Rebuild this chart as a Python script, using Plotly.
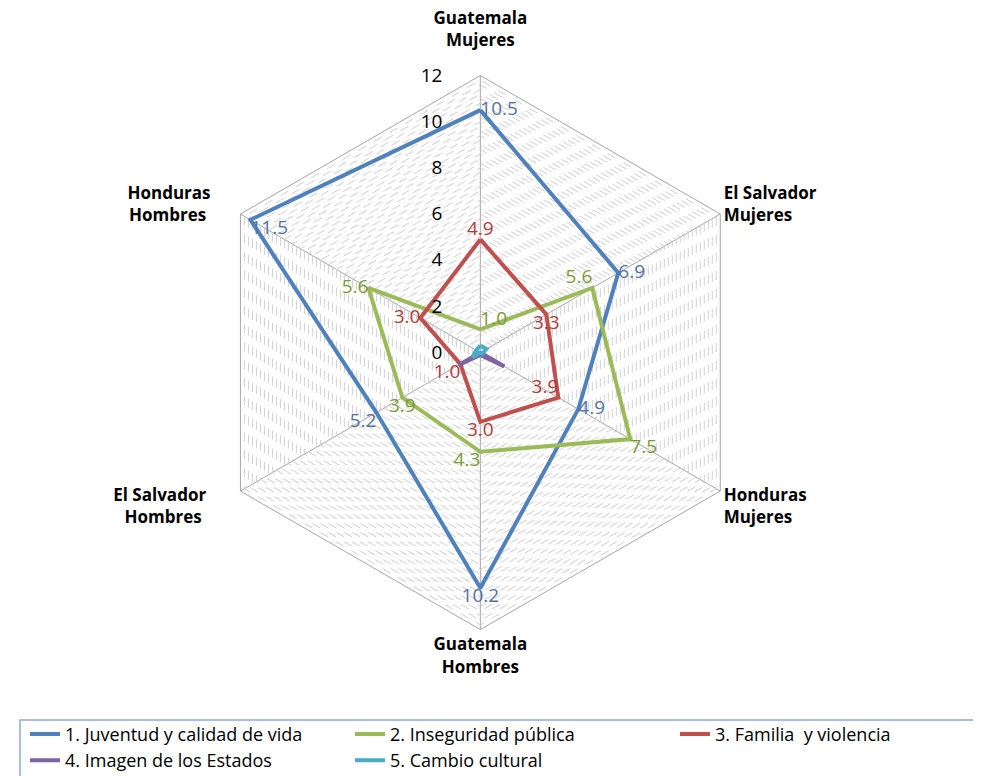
import plotly.graph_objects as go

NB = "&nbsp;"
categories = ["Guatemala<br>Mujeres<br>" + NB, "El Salvador<br>Mujeres", "Honduras<br>Mujeres",
              "Guatemala<br>Hombres", "El Salvador" + NB * 7 + "<br>Hombres" + NB * 8,
              "Honduras" + NB * 6 + "<br>Hombres" + NB * 7]

series_names = ["1. Juventud y calidad de vida", "2. Inseguridad pública", "3. Familia  y violencia",
                "4. Imagen de los Estados", "5. Cambio cultural"]

juventud = [10.5, 6.9, 4.9, 10.2, 5.2, 11.5]
inseguridad = [1.0, 5.6, 7.5, 4.3, 3.9, 5.6]
familia = [4.9, 3.3, 3.9, 3.0, 1.0, 3.0]
imagen = [0.0, 0.0, 1.2, 0.1, 1.1, 0.0]
cambio = [0.3, 0.3, 0.1, 0.0, 0.4, 0.2]

radial_ticks = [0, 2, 4, 6, 8, 10, 12]

line_colors = ["#4F81BD", "#9BBB59", "#C0504D", "#8064A2", "#4BACC6"]
label_colors = ["#5572A8", "#7C9A35", "#B03C3A", None, None]
legend_ids = ["legend", "legend2", "legend3", "legend", "legend2"]

text_positions = [
    ["middle right", "middle right", "middle right", "bottom center", "bottom left", "bottom right"],
    ["top right", "top left", "bottom right", "bottom left", "bottom center", "middle left"],
    ["top center", "bottom center", "top left", "bottom center", "bottom left", "middle left"],
    None, None,
]

FONT = "Open Sans"
all_values = [juventud, inseguridad, familia, imagen, cambio]

fig = go.Figure()
for i, vals in enumerate(all_values):
    r = vals + vals[:1]
    theta = categories + categories[:1]
    if label_colors[i]:
        kw = dict(
            mode="lines+text",
            text=[f"{v:.1f}" for v in vals] + [""],
            textposition=text_positions[i] + ["middle center"],
            textfont=dict(family=FONT, size=19, color=label_colors[i]),
        )
    else:
        kw = dict(mode="lines")
    fig.add_trace(go.Scatterpolar(
        r=r, theta=theta, name=series_names[i],
        line=dict(color=line_colors[i], width=4),
        cliponaxis=False, legend=legend_ids[i],
        **kw,
    ))

minor = [round(k * 0.2, 1) for k in range(0, 61)]
ticktext = [str(int(round(v))) + NB * 7 if abs(v - round(v)) < 1e-9 and int(round(v)) in radial_ticks else ""
            for v in minor]

legend_style = dict(
    orientation="v", yanchor="top", xanchor="left", y=0.088,
    font=dict(family=FONT, size=18, color="black"),
    bgcolor="rgba(0,0,0,0)", itemwidth=30, tracegroupgap=0,
)

fig.update_layout(
    width=981, height=776,
    margin=dict(l=0, r=0, t=0, b=0),
    paper_bgcolor="white",
    font=dict(family=FONT, color="black"),
    polar=dict(
        domain=dict(x=[0.199, 0.764], y=[0.199, 0.913]),
        bgcolor="white",
        gridshape="linear",
        radialaxis=dict(
            range=[0, 12], tickvals=minor, ticktext=ticktext,
            angle=90, tickangle=90, side="counterclockwise",
            showline=False, ticks="",
            gridcolor="#d0d0d0", griddash="dash", gridwidth=1,
            tickfont=dict(family=FONT, size=19, color="black"),
        ),
        angularaxis=dict(
            direction="clockwise", rotation=90,
            showline=True, linecolor="#a6a6a6", linewidth=1,
            gridcolor="#a6a6a6", gridwidth=1, ticks="",
            tickfont=dict(family=FONT, size=17, color="black", weight="bold"),
        ),
    ),
    legend=dict(x=17 / 981, **legend_style),
    legend2=dict(x=342 / 981, **legend_style),
    legend3=dict(x=667 / 981, **legend_style),
    shapes=[dict(type="rect", xref="paper", yref="paper",
                 x0=12 / 981, x1=970 / 981, y0=-0.01, y1=(776 - 712) / 776,
                 line=dict(color="#8EA9D8", width=1.5), fillcolor="rgba(0,0,0,0)")],
)

fig.write_html("out.html")
